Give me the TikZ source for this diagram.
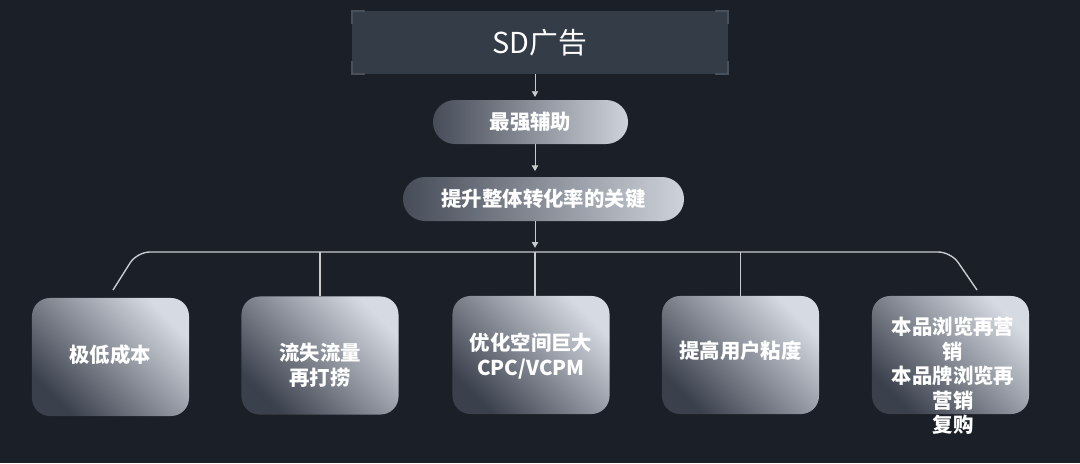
\documentclass[tikz,border=0pt]{standalone}
\usepackage{fontspec}
\setmainfont{Noto Sans CJK SC}
\usetikzlibrary{arrows.meta,calc}

\begin{document}
\begin{tikzpicture}[x=0.025cm,y=-0.025cm]
\definecolor{bg}{RGB}{27,31,39}
\definecolor{titlefill}{RGB}{52,60,72}
\definecolor{bracketgray}{RGB}{72,80,92}
\definecolor{pilldark}{RGB}{70,76,88}
\definecolor{pilllight}{RGB}{206,210,218}
\definecolor{carddark}{RGB}{58,64,76}
\definecolor{cardlight}{RGB}{214,218,226}
\definecolor{linegray}{RGB}{200,202,206}
\tikzstyle{title} = [rectangle, fill=titlefill, minimum width=9.4cm, minimum height=1.575cm, text=white, font=\fontsize{20.5}{24}\selectfont]
\tikzstyle{bracket} = [bracketgray, line width=1.2pt]
\tikzstyle{pill} = [rectangle, rounded corners=0.55cm, minimum height=1.1cm, left color=pilldark, right color=pilllight, text=white, font=\fontsize{14.5}{17.4}\selectfont\bfseries]
\tikzstyle{card} = [rectangle, rounded corners=0.45cm, minimum width=3.925cm, minimum height=2.95cm, top color=cardlight, bottom color=carddark, shading angle=-45]
\tikzstyle{cardtext} = [text=white, align=center, font=\fontsize{14.5}{17.4}\selectfont\bfseries]
\tikzstyle{arr} = [linegray, line width=0.6pt, -{Triangle[width=4.5pt,length=4pt]}]
\tikzstyle{bus} = [linegray, line width=1pt]

\fill[bg] (0,0) rectangle (1080,463);
\useasboundingbox (0,0) rectangle (1080,463);

% title and the two steps
\node[title] (sd) at (540,42.5) {SD广告};
\draw[bracket] ($(sd.north west)+(0,13)$) -- (sd.north west) -- ($(sd.north west)+(13,0)$);
\draw[bracket] ($(sd.north east)+(0,13)$) -- (sd.north east) -- ($(sd.north east)+(-13,0)$);
\draw[bracket] ($(sd.south west)+(0,-13)$) -- (sd.south west) -- ($(sd.south west)+(13,0)$);
\draw[bracket] ($(sd.south east)+(0,-13)$) -- (sd.south east) -- ($(sd.south east)+(-13,0)$);

\node[pill, minimum width=4.875cm] (help) at (530.5,122) {最强辅助};
\node[pill, minimum width=7.025cm] (key) at (543.5,199) {提升整体转化率的关键};

\coordinate (spine) at (535,0);
\coordinate (hub) at (535,252);

\draw[arr, shorten >=2] (sd.south -| spine) -- (help.north -| spine);
\draw[arr, shorten >=4] (help.south -| spine) -- (key.north -| spine);
\draw[arr, shorten >=3] (key.south -| spine) -- (hub);

% the five cards
\node[card] (b1) at (110.5,357) {};
\node[card] (b2) at (320,355.5) {};
\node[card] (b3) at (531,355) {};
\node[card] (b4) at (740.5,355) {};
\node[card] (b5) at (950.5,355) {};

\node[cardtext] (t1) at (110,355) {极低成本};
\node[cardtext] (t2) at (320,365) {流失流量\\再打捞};
\node[cardtext] (t3) at (531,356) {优化空间巨大\\CPC/VCPM};
\node[cardtext] (t4) at (740.5,351) {提高用户粘度};
\node[cardtext] (t5) at (953,376) {本品浏览再营\\销\\本品牌浏览再\\营销\\复购};

% bus to the cards
\coordinate (c1) at (113,290);
\coordinate (c5) at (977,290);
\draw[bus, rounded corners=9] (c1) -- (137,252) -- (951,252) -- (c5);
\draw[bus] (hub) -- (b3.north -| hub);
\draw[bus] (b2.north |- hub) -- (b2.north);
\draw[bus] (b4.north |- hub) -- (b4.north);

\end{tikzpicture}
\end{document}
